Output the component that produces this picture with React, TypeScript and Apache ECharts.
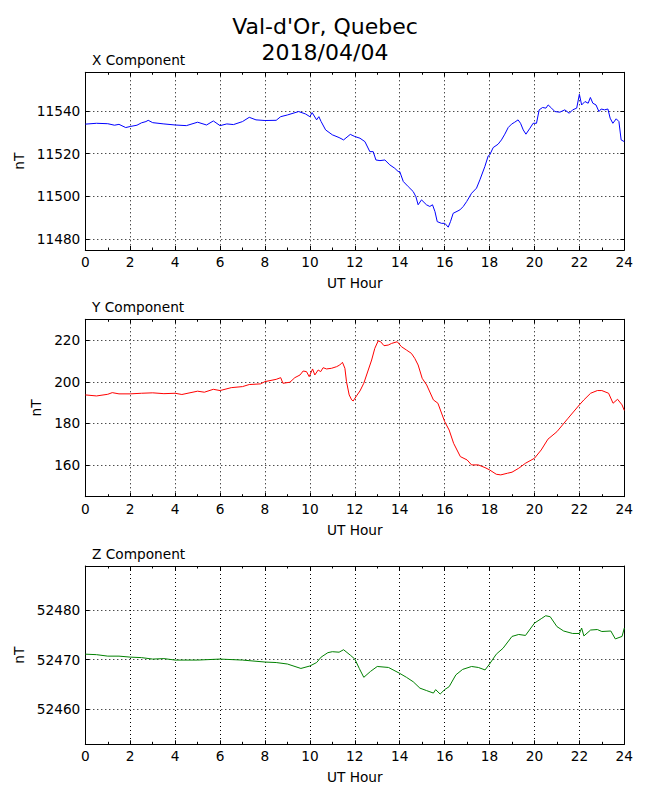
import React, { useEffect, useRef } from "react";
import * as echarts from "echarts";

const FONT = "DejaVu Sans";

const xHours = [0, 0.5, 1, 1.3, 1.5, 1.8, 2, 2.3, 2.5, 2.7, 2.8, 3, 3.5, 4, 4.5, 5, 5.4, 5.7, 6, 6.3, 6.6, 7, 7.3, 7.6, 8, 8.5, 8.7, 9, 9.5, 9.8, 10, 10.1, 10.3, 10.4, 10.5, 10.7, 11, 11.3, 11.5, 11.8, 12, 12.23, 12.45, 12.67, 12.82, 12.94, 13.12, 13.34, 13.56, 13.78, 13.93, 14.0, 14.16, 14.38, 14.6, 14.72, 14.82, 14.97, 15.19, 15.34, 15.46, 15.57, 15.67, 15.86, 16.01, 16.16, 16.26, 16.38, 16.68, 16.83, 16.98, 17.2, 17.42, 17.57, 17.79, 17.94, 18.01, 18.16, 18.38, 18.53, 18.68, 18.83, 18.98, 19.12, 19.27, 19.38, 19.5, 19.62, 19.8, 19.94, 20.09, 20.21, 20.36, 20.51, 20.61, 20.76, 20.91, 21.13, 21.35, 21.55, 21.7, 21.88, 22.0, 22.1, 22.25, 22.39, 22.49, 22.6, 22.74, 22.87, 22.97, 23.12, 23.27, 23.37, 23.49, 23.64, 23.76, 23.86, 24];
const xValues = [11533.8, 11534.2, 11534, 11533.3, 11533.7, 11532.2, 11532.7, 11533.3, 11534.4, 11535, 11535.6, 11534.5, 11533.9, 11533.4, 11533.1, 11534.7, 11533.4, 11535.3, 11533.1, 11533.9, 11533.6, 11535, 11537, 11535.8, 11535.5, 11535.6, 11537.3, 11538.1, 11539.7, 11538.6, 11537.3, 11539.2, 11535.8, 11537.3, 11535, 11531.1, 11528.8, 11527.5, 11526.4, 11529, 11528, 11527.2, 11525.6, 11520.9, 11520.9, 11517, 11516.7, 11517, 11514.7, 11513.1, 11511.6, 11511.6, 11506.9, 11504.5, 11502.2, 11499.8, 11496, 11498.3, 11496, 11495.2, 11496, 11492.8, 11488.1, 11487.3, 11487.3, 11485.5, 11488.1, 11492, 11493.6, 11495.2, 11497.5, 11501.4, 11503.8, 11507.7, 11513.9, 11518.9, 11519.4, 11522.8, 11524.4, 11526.4, 11529.1, 11532.2, 11533.8, 11534.7, 11535.8, 11534.2, 11531.1, 11529.1, 11531.9, 11534.2, 11534.2, 11540.5, 11541.6, 11541.3, 11542.8, 11541.3, 11539.7, 11539.4, 11540.5, 11538.9, 11540.5, 11541.3, 11547.8, 11542.8, 11544.4, 11543.6, 11546.3, 11543.6, 11542.8, 11539.7, 11540.9, 11540.5, 11540.9, 11536.6, 11534.2, 11536.3, 11535, 11526.4, 11525.6];

const yHours = [0, 0.5, 1, 1.2, 1.5, 2, 2.5, 3, 3.5, 4, 4.3, 5, 5.3, 5.7, 6, 6.5, 7, 7.3, 7.8, 8, 8.5, 8.7, 8.8, 9.11, 9.33, 9.56, 9.7, 9.85, 9.97, 10.12, 10.22, 10.37, 10.48, 10.59, 10.74, 10.96, 11.19, 11.33, 11.45, 11.56, 11.63, 11.75, 11.86, 11.93, 12.08, 12.23, 12.4, 12.6, 12.75, 12.89, 13.04, 13.15, 13.3, 13.49, 13.64, 13.89, 14.08, 14.3, 14.52, 14.67, 14.82, 15, 15.2, 15.5, 15.7, 16, 16.2, 16.4, 16.7, 17, 17.2, 17.5, 17.8, 18, 18.3, 18.5, 18.8, 19, 19.3, 19.6, 20, 20.3, 20.6, 21, 21.5, 22, 22.2, 22.5, 22.8, 23, 23.3, 23.5, 23.7, 23.9, 24];
const yValues = [193.7, 193.2, 194, 194.8, 194.2, 194.2, 194.5, 194.7, 194.3, 194.5, 193.9, 195.5, 195, 196.4, 195.8, 197.2, 197.7, 198.7, 199, 200.1, 201.2, 202, 199.3, 199.8, 202, 203.3, 205.2, 204.9, 202.5, 206.2, 203.3, 205.7, 204.9, 206.8, 206.2, 206.5, 207.3, 208.1, 209.4, 206.5, 200.1, 193.7, 191.3, 190.8, 193.3, 195.6, 199.3, 205.7, 210.5, 216.1, 219.7, 219.3, 217.4, 217.7, 218.5, 219.3, 216.9, 215.3, 213.7, 211.3, 208.1, 201.7, 198.5, 191.3, 189.7, 180.9, 176.8, 170.4, 164, 162.4, 160, 160, 158.7, 157.6, 155.5, 155.2, 156, 156.5, 158.4, 160.8, 163.2, 167.2, 172.4, 176, 182.5, 188.9, 191.3, 194.5, 195.8, 195.8, 194.5, 189.7, 191.6, 188.9, 186.2];

const zHours = [0, 0.5, 1, 1.5, 2, 2.5, 3, 3.5, 4, 5, 6, 7, 8, 8.5, 9, 9.6, 10, 10.3, 10.5, 10.8, 11, 11.3, 11.5, 11.8, 12, 12.2, 12.4, 12.7, 13, 13.5, 14, 14.3, 14.6, 14.9, 15.2, 15.5, 15.6, 15.8, 16, 16.2, 16.5, 16.8, 17.2, 17.5, 17.8, 18, 18.3, 18.6, 19, 19.3, 19.6, 20, 20.3, 20.5, 20.7, 21, 21.3, 21.7, 22, 22.1, 22.2, 22.5, 22.8, 23, 23.4, 23.6, 23.9, 24];
const zValues = [52471.1, 52471.0, 52470.7, 52470.7, 52470.5, 52470.4, 52470.1, 52470.2, 52469.9, 52469.9, 52470.1, 52469.9, 52469.5, 52469.4, 52469.1, 52468.2, 52468.7, 52469.4, 52470.5, 52471.4, 52471.6, 52471.5, 52472, 52470.9, 52470.1, 52468.2, 52466.4, 52467.6, 52468.6, 52468.4, 52467.2, 52466.4, 52465.5, 52464.2, 52463.7, 52463.2, 52463.9, 52463, 52463.9, 52464.5, 52466.9, 52468, 52468.6, 52468.4, 52467.9, 52469.1, 52471.1, 52472.3, 52474.7, 52475.1, 52474.9, 52477.4, 52478.3, 52478.9, 52478.7, 52476.7, 52475.8, 52475.3, 52475.3, 52476.4, 52474.8, 52476, 52476.1, 52475.7, 52475.8, 52474.2, 52474.7, 52476.4];

const xTicks = [11480, 11500, 11520, 11540];
const yTicks = [160, 180, 200, 220];
const zTicks = [52460, 52470, 52480];

const panels = [
  { title: "X Component", hours: xHours, values: xValues, ticks: xTicks, color: "#0000ff", min: 11474.8, max: 11558.1, top: 72.3, height: 177.7, nameGap: 47, titleTop: 52 },
  { title: "Y Component", hours: yHours, values: yValues, ticks: yTicks, color: "#ff0000", min: 144.7, max: 230.1, top: 319.3, height: 177.4, nameGap: 34, titleTop: 298.7 },
  { title: "Z Component", hours: zHours, values: zValues, ticks: zTicks, color: "#008000", min: 52452.8, max: 52489.0, top: 566, height: 178.3, nameGap: 47, titleTop: 546.3 },
];

const txt = { color: "#000", fontFamily: FONT, fontSize: 13.7 };

export default function App() {
  const ref = useRef<HTMLDivElement>(null);
  useEffect(() => {
    if (!ref.current) return;
    const chart = echarts.init(ref.current, undefined, { renderer: "svg" });
    const grid: any[] = [];
    const xAxis: any[] = [];
    const yAxis: any[] = [];
    const series: any[] = [];
    const title: any[] = [
      {
        text: "Val-d'Or, Quebec\n2018/04/04",
        left: "center",
        top: 13,
        padding: 0,
        textStyle: { color: "#000", fontFamily: FONT, fontSize: 22, fontWeight: "normal", lineHeight: 26 },
      },
    ];
    panels.forEach((p, i) => {
      grid.push({ left: 85.3, width: 539, top: p.top, height: p.height, containLabel: false });
      title.push({ text: p.title, left: 92, top: p.titleTop, padding: 0, textStyle: { ...txt, fontWeight: "normal", lineHeight: 16 } });
      const lineStyle = { color: "#000", width: 1 };
      xAxis.push({
        type: "value",
        gridIndex: i,
        position: "bottom",
        min: 0,
        max: 24,
        interval: 2,
        axisLine: { show: true, onZero: false, lineStyle },
        axisTick: { show: true, inside: true, length: 4, lineStyle },
        minorTick: { show: true, splitNumber: 2, length: 2.5, lineStyle },
        axisLabel: { ...txt, margin: 5 },
        splitLine: { show: true, lineStyle: { color: "#000", width: 1, type: [1, 3] } },
        name: "UT Hour",
        nameLocation: "middle",
        nameGap: 26,
        nameTextStyle: txt,
      });
      xAxis.push({
        type: "value",
        gridIndex: i,
        position: "top",
        min: 0,
        max: 24,
        interval: 2,
        axisLine: { show: true, onZero: false, lineStyle },
        axisTick: { show: true, inside: true, length: 4, lineStyle },
        minorTick: { show: true, splitNumber: 2, length: 2.5, lineStyle },
        axisLabel: { show: false },
        splitLine: { show: false },
      });
      yAxis.push({
        type: "value",
        gridIndex: i,
        position: "left",
        min: p.min,
        max: p.max,
        axisLine: { show: true, onZero: false, lineStyle },
        axisTick: { show: true, inside: true, length: 4, lineStyle, customValues: p.ticks },
        axisLabel: { ...txt, margin: 5, customValues: p.ticks, formatter: (v: number) => String(Math.round(v)) },
        splitLine: { show: true, lineStyle: { color: "#000", width: 1, type: [1, 3] } },
        name: "nT",
        nameLocation: "middle",
        nameGap: p.nameGap,
        nameTextStyle: txt,
      });
      yAxis.push({
        type: "value",
        gridIndex: i,
        position: "right",
        min: p.min,
        max: p.max,
        axisLine: { show: true, onZero: false, lineStyle },
        axisTick: { show: true, inside: true, length: 4, lineStyle, customValues: p.ticks },
        axisLabel: { show: false, customValues: p.ticks },
        splitLine: { show: false },
      });
      series.push({
        type: "line",
        xAxisIndex: i * 2,
        yAxisIndex: i * 2,
        data: p.hours.map((h, k) => [h, p.values[k]]),
        showSymbol: false,
        symbol: "none",
        lineStyle: { color: p.color, width: 1 },
        itemStyle: { color: p.color },
        z: 5,
      });
    });
    chart.setOption({
      animation: false,
      backgroundColor: "#fff",
      title,
      grid,
      xAxis,
      yAxis,
      series,
    });
    return () => chart.dispose();
  }, []);
  return <div ref={ref} style={{ position: "absolute", left: 0, top: 0, width: 650, height: 800 }} />;
}
